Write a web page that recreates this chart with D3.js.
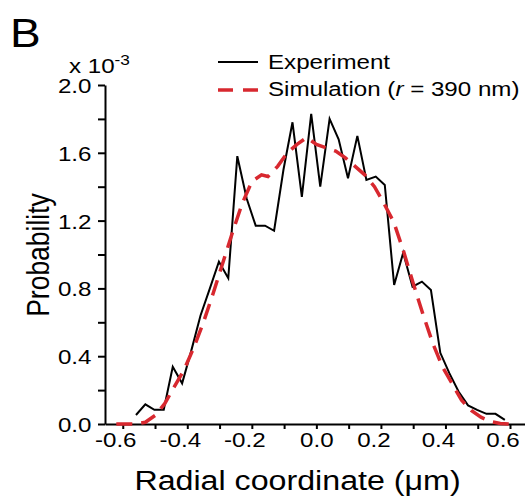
<!DOCTYPE html>
<html>
<head>
<meta charset="utf-8">
<script src="https://cdn.jsdelivr.net/npm/d3@7"></script>
<style>
  html, body { margin: 0; padding: 0; background: #fff; }
  svg text { font-family: "Liberation Sans", Arial, sans-serif; fill: #000; }
</style>
</head>
<body>
<svg id="chart" width="525" height="500"></svg>
<script>
// DATA (probability in units of 1e-3, radial coordinate in um)
const expX = [-0.559, -0.530, -0.502, -0.473, -0.445, -0.416, -0.388, -0.359, -0.330, -0.302,
  -0.273, -0.245, -0.216, -0.188, -0.159, -0.131, -0.102, -0.074, -0.045, -0.016,
  0.012, 0.041, 0.069, 0.098, 0.127, 0.155, 0.184, 0.212, 0.241, 0.269,
  0.298, 0.327, 0.355, 0.384, 0.412, 0.441, 0.470, 0.498, 0.527, 0.555, 0.584];
const expY = [0.053, 0.116, 0.084, 0.084, 0.338, 0.24, 0.43, 0.64, 0.80, 0.957,
  0.86, 1.58, 1.33, 1.17, 1.17, 1.14, 1.50, 1.78, 1.34, 1.83,
  1.40, 1.80, 1.68, 1.45, 1.70, 1.44, 1.46, 1.41, 0.82, 1.01,
  0.81, 0.84, 0.79, 0.42, 0.30, 0.19, 0.11, 0.083, 0.06, 0.06, 0.024];

const simX = [-0.62, -0.59, -0.56, -0.53, -0.50, -0.47, -0.44, -0.41, -0.38, -0.35,
  -0.32, -0.29, -0.26, -0.23, -0.20, -0.17, -0.15, -0.12, -0.09, -0.06,
  -0.03, 0.00, 0.03, 0.06, 0.09, 0.12, 0.15, 0.18, 0.21, 0.24,
  0.27, 0.30, 0.33, 0.36, 0.39, 0.42, 0.45, 0.48, 0.51, 0.54, 0.57, 0.60, 0.62];
const simY = [0, 0, 0, 0.01, 0.05, 0.12, 0.22, 0.32, 0.45, 0.60,
  0.77, 0.95, 1.13, 1.30, 1.43, 1.47, 1.46, 1.52, 1.60, 1.65,
  1.69, 1.65, 1.63, 1.61, 1.57, 1.52, 1.47, 1.40, 1.30, 1.19,
  1.02, 0.83, 0.65, 0.48, 0.34, 0.24, 0.14, 0.08, 0.04, 0.015, 0.003, 0, 0];

const xTicks = [-0.6, -0.5, -0.4, -0.3, -0.2, -0.1, 0, 0.1, 0.2, 0.3, 0.4, 0.5, 0.6];
const xLabels = [-0.6, -0.4, -0.2, 0, 0.2, 0.4, 0.6];
const yTicks = [0, 0.2, 0.4, 0.6, 0.8, 1.0, 1.2, 1.4, 1.6, 1.8, 2.0];
const yLabels = [0, 0.4, 0.8, 1.2, 1.6, 2.0];

const seriesNames = ["Experiment", "Simulation"];

// CANVAS SETUP
const svg = d3.select("#chart");
const margin = { top: 85, right: 0, bottom: 76, left: 105 },
  width = +svg.attr("width") - margin.left - margin.right,
  height = +svg.attr("height") - margin.top - margin.bottom;

const stretch = "scale(1.15,1)"; // the figure's lettering is a bit wide
const red = "#d8282f";

const xScale = d3.scaleLinear().domain([-0.655, 0.6465]).range([0, width]);
const yScale = d3.scaleLinear().domain([0, 2.0]).range([height, 0]);

const g = svg.append("g").attr("transform", `translate(${margin.left},${margin.top})`);

// AXES
const gx = g.append("g")
  .attr("transform", `translate(0,${height})`)
  .call(d3.axisBottom(xScale)
    .tickValues(xTicks)
    .tickSize(5)
    .tickSizeOuter(0)
    .tickFormat((d) => (xLabels.some((v) => Math.abs(v - d) < 1e-9) ? d.toFixed(1) : "")));

gx.select(".domain").attr("stroke", "#000").attr("stroke-width", 2);
gx.selectAll(".tick line").attr("stroke", "#000").attr("stroke-width", 2);
gx.selectAll(".tick text")
  .attr("y", 0)
  .attr("dy", 0)
  .attr("font-size", 21)
  .attr("transform", (d) => `translate(${Math.abs(d) < 1e-9 ? 0 : -7.5},22.5) ${stretch}`);

const gy = g.append("g")
  .call(d3.axisLeft(yScale)
    .tickValues(yTicks)
    .tickSize(7)
    .tickSizeOuter(0)
    .tickFormat((d) => (yLabels.some((v) => Math.abs(v - d) < 1e-9) ? d.toFixed(1) : "")));

gy.select(".domain").attr("stroke", "#000").attr("stroke-width", 2);
gy.selectAll(".tick line").attr("stroke", "#000").attr("stroke-width", 2);
gy.selectAll(".tick text")
  .attr("x", 0)
  .attr("dy", 0)
  .attr("font-size", 21)
  .attr("text-anchor", "end")
  .attr("transform", `translate(-13.5,7.5) ${stretch}`);

// LINES
const line = d3.line()
  .x((d) => xScale(d[0]))
  .y((d) => yScale(d[1]));

const expData = d3.zip(expX, expY);
const simData = d3.zip(simX, simY);

g.append("path")
  .datum(expData)
  .attr("fill", "none")
  .attr("stroke", "#000")
  .attr("stroke-width", 2)
  .attr("stroke-linejoin", "miter")
  .attr("d", line);

g.append("path")
  .datum(simData)
  .attr("fill", "none")
  .attr("stroke", red)
  .attr("stroke-width", 3.5)
  .attr("stroke-dasharray", "16,9")
  .attr("d", line);

// LEGEND
const legend = svg.append("g").attr("transform", "translate(218,0)");
legend.append("line")
  .attr("x1", 0).attr("x2", 40).attr("y1", 62).attr("y2", 62)
  .attr("stroke", "#000").attr("stroke-width", 2);
legend.append("line")
  .attr("x1", 0).attr("x2", 40).attr("y1", 90).attr("y2", 90)
  .attr("stroke", red).attr("stroke-width", 3.5)
  .attr("stroke-dasharray", "15,10");

legend.append("text")
  .attr("transform", `translate(50,68.5) ${stretch}`)
  .attr("font-size", 21)
  .text(seriesNames[0]);

const simLabel = legend.append("text")
  .attr("transform", `translate(50,96) ${stretch}`)
  .attr("font-size", 21);
simLabel.append("tspan").text(seriesNames[1] + " (");
simLabel.append("tspan").attr("font-style", "italic").text("r");
simLabel.append("tspan").text(" = 390 nm)");

// ANNOTATION
svg.append("text")
  .attr("transform", `translate(10,47) ${stretch}`)
  .attr("font-size", 40)
  .text("B");

const expo = svg.append("text")
  .attr("transform", `translate(69,72.5) ${stretch}`)
  .attr("font-size", 21);
expo.append("tspan").text("x 10");
expo.append("tspan").attr("font-size", 15).attr("dy", -8).text("-3");

svg.append("text")
  .attr("transform", `translate(48.5,255) ${stretch} rotate(-90)`)
  .attr("text-anchor", "middle")
  .attr("font-size", 26.5)
  .text("Probability");

svg.append("text")
  .attr("transform", `translate(297.5,490) ${stretch}`)
  .attr("text-anchor", "middle")
  .attr("font-size", 28)
  .text("Radial coordinate (μm)");
</script>
</body>
</html>
